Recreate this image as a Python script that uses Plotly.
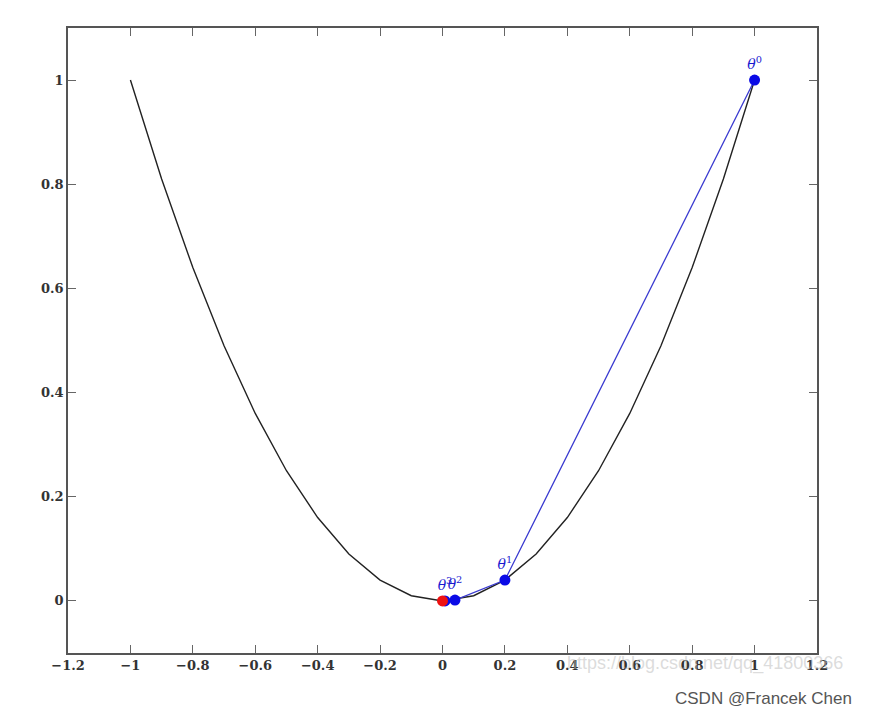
import plotly.graph_objects as go

# Parabola f(x) = x^2, sampled
curve_x = [-1.0, -0.9, -0.8, -0.7, -0.6, -0.5, -0.4, -0.3, -0.2, -0.1, 0.0,
           0.1, 0.2, 0.3, 0.4, 0.5, 0.6, 0.7, 0.8, 0.9, 1.0]
curve_y = [1.0, 0.81, 0.64, 0.49, 0.36, 0.25, 0.16, 0.09, 0.04, 0.01, 0.0,
           0.01, 0.04, 0.09, 0.16, 0.25, 0.36, 0.49, 0.64, 0.81, 1.0]

# Gradient descent iterates
theta_x = [1.0, 0.2, 0.04, 0.008]
theta_y = [1.0, 0.04, 0.0016, 0.000064]
theta_labels = ["<i>θ</i><sup>0</sup>", "<i>θ</i><sup>1</sup>",
                "<i>θ</i><sup>2</sup>", "<i>θ</i><sup>3</sup>"]
final_x = [0.0]
final_y = [0.0]

x_ticks = [-1.2, -1.0, -0.8, -0.6, -0.4, -0.2, 0.0, 0.2, 0.4, 0.6, 0.8, 1.0, 1.2]
x_tick_text = ["−1.2", "−1", "−0.8", "−0.6", "−0.4", "−0.2", "0",
               "0.2", "0.4", "0.6", "0.8", "1", "1.2"]
y_ticks = [0.0, 0.2, 0.4, 0.6, 0.8, 1.0]
y_tick_text = ["0", "0.2", "0.4", "0.6", "0.8", "1"]

fig = go.Figure()
fig.add_trace(go.Scatter(x=curve_x, y=curve_y, mode="lines",
                         line=dict(color="#222222", width=1.4),
                         showlegend=False, hoverinfo="skip"))
fig.add_trace(go.Scatter(x=theta_x + final_x, y=theta_y + final_y, mode="lines",
                         line=dict(color="#3a3ad0", width=1.3),
                         showlegend=False, hoverinfo="skip"))
fig.add_trace(go.Scatter(x=theta_x, y=theta_y, mode="markers+text",
                         marker=dict(color="#0a0ae6", size=11),
                         text=theta_labels, textposition="top center",
                         textfont=dict(family="DejaVu Serif", size=14, color="#1a1ad0"),
                         showlegend=False))
fig.add_trace(go.Scatter(x=final_x, y=final_y, mode="markers",
                         marker=dict(color="#ee1111", size=11),
                         showlegend=False))

tickfont = dict(family="DejaVu Serif", size=13, color="#333333", weight="bold")
fig.update_xaxes(range=[-1.2, 1.2], tickvals=x_ticks, ticktext=x_tick_text,
                 ticks="inside", ticklen=8, tickcolor="#666666", tickwidth=1,
                 showline=True, linecolor="#555555", linewidth=1.5, mirror="ticks",
                 showgrid=False, zeroline=False, tickfont=tickfont)
fig.update_yaxes(range=[-0.1, 1.1], tickvals=y_ticks, ticktext=y_tick_text,
                 ticks="inside", ticklen=8, tickcolor="#666666", tickwidth=1,
                 showline=True, linecolor="#555555", linewidth=1.5, mirror="ticks",
                 showgrid=False, zeroline=False, tickfont=tickfont)

fig.add_annotation(text="https://blog.csdn.net/qq_41800366", xref="paper", yref="paper",
                   x=1.037, y=-0.016, xanchor="right", yanchor="middle", showarrow=False,
                   font=dict(family="Liberation Sans", size=18, color="rgba(190,190,190,0.55)"))
fig.add_annotation(text="CSDN @Francek Chen", xref="paper", yref="paper",
                   x=1.05, y=-0.072, xanchor="right", yanchor="middle", showarrow=False,
                   font=dict(family="Liberation Sans", size=17, color="#555555"))

fig.update_layout(width=863, height=705,
                  margin=dict(l=60, r=54, t=20, b=60),
                  paper_bgcolor="white", plot_bgcolor="white")

fig.write_html("out.html")
